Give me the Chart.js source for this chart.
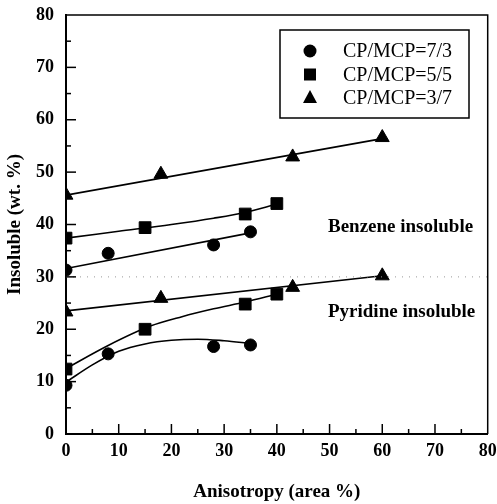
<!DOCTYPE html>
<html>
<head>
<meta charset="utf-8">
<script src="https://cdn.jsdelivr.net/npm/chart.js@4.4.1/dist/chart.umd.min.js"></script>
<style>
  html, body { margin: 0; padding: 0; background: #fff; }
  #wrap { width: 497px; height: 504px; }
</style>
</head>
<body>
<div id="wrap"><canvas id="chart"></canvas></div>
<script>
// axis ticks
const xTickValues = [0, 10, 20, 30, 40, 50, 60, 70, 80];
const yTickValues = [0, 10, 20, 30, 40, 50, 60, 70, 80];

// measured points (anisotropy %, insoluble wt.%)
const anis73 = [0, 8, 28, 35];
const benz73 = [31.3, 34.5, 36.1, 38.6];
const pyr73 = [9.3, 15.3, 16.7, 17.0];

const anis55 = [0, 15, 34, 40];
const benz55 = [37.4, 39.4, 42.0, 44.0];
const pyr55 = [12.4, 20.0, 24.8, 26.7];

const anis37 = [0, 18, 43, 60];
const benz37 = [45.6, 49.6, 52.9, 56.6];
const pyr37 = [23.3, 25.9, 28.0, 30.2];

// fitted curves
const fitBenz73X = [0, 35];
const fitBenz73Y = [31.6, 38.4];
const fitBenz55X = [0, 10, 20, 28, 34, 40];
const fitBenz55Y = [37.4, 38.7, 40.0, 41.2, 42.3, 43.9];
const fitBenz37X = [0, 60];
const fitBenz37Y = [45.6, 56.4];

const fitPyr73X = [0, 5, 10, 15, 20, 25, 30, 35];
const fitPyr73Y = [9.9, 13.2, 15.8, 17.2, 17.9, 18.1, 17.8, 17.3];
const fitPyr55X = [0, 8, 16, 22, 28, 34, 40];
const fitPyr55Y = [12.5, 16.9, 20.6, 22.4, 23.9, 25.2, 26.7];
const fitPyr37X = [0, 60];
const fitPyr37Y = [23.5, 30.2];

// dotted reference line
const refLineX = [0, 80];
const refLineY = [30, 30];

const legendLabels = ['CP/MCP=7/3', 'CP/MCP=5/5', 'CP/MCP=3/7'];
const legendStyles = ['circle', 'rect', 'triangle'];

const serif = '"Liberation Serif", "Times New Roman", serif';

function pts(xs, ys) {
    return xs.map((x, i) => ({ x: x, y: ys[i] }));
}

function fitLine(xs, ys) {
    return {
        data: pts(xs, ys),
        showLine: true,
        borderColor: '#000',
        borderWidth: 1.6,
        pointRadius: 0,
        cubicInterpolationMode: 'monotone',
        fill: false
    };
}

function markers(xs, ys, style, radius) {
    return {
        data: pts(xs, ys),
        showLine: false,
        pointStyle: style,
        pointRadius: radius,
        pointBackgroundColor: '#000',
        pointBorderColor: '#000',
        pointBorderWidth: 1
    };
}

function drawMarker(ctx, style, x, y) {
    ctx.beginPath();
    if (style === 'circle') {
        ctx.arc(x, y, 6.5, 0, Math.PI * 2);
    } else if (style === 'rect') {
        ctx.rect(x - 6, y - 6, 12, 12);
    } else {
        ctx.moveTo(x, y - 8);
        ctx.lineTo(x + 7, y + 5);
        ctx.lineTo(x - 7, y + 5);
        ctx.closePath();
    }
    ctx.fill();
}

// inward ticks, frame, legend box and text labels
const decorations = {
    id: 'decorations',
    afterDraw(chart) {
        const ctx = chart.ctx;
        const xs = chart.scales.x;
        const ys = chart.scales.y;
        const a = chart.chartArea;
        ctx.save();
        ctx.strokeStyle = '#000';
        ctx.fillStyle = '#000';

        // frame top & right
        ctx.lineWidth = 1.5;
        ctx.beginPath();
        ctx.moveTo(a.left, a.top);
        ctx.lineTo(a.right, a.top);
        ctx.lineTo(a.right, a.bottom);
        ctx.stroke();

        // inward ticks
        ctx.lineWidth = 1.5;
        for (let v = 5; v < 80; v += 5) {
            const len = v % 10 === 0 ? 10 : 5;
            const px = xs.getPixelForValue(v);
            ctx.beginPath();
            ctx.moveTo(px, a.bottom);
            ctx.lineTo(px, a.bottom - len);
            ctx.stroke();
            const py = ys.getPixelForValue(v);
            ctx.beginPath();
            ctx.moveTo(a.left, py);
            ctx.lineTo(a.left + len, py);
            ctx.stroke();
        }

        // legend
        const lx = a.left + 214, ly = a.top + 15;
        ctx.lineWidth = 1.5;
        ctx.strokeRect(lx, ly, 189, 88);
        ctx.font = '20px ' + serif;
        ctx.textBaseline = 'middle';
        ctx.textAlign = 'left';
        legendLabels.forEach((t, i) => {
            const cy = ly + 21 + i * 23.5;
            drawMarker(ctx, legendStyles[i], lx + 30, cy);
            ctx.fillText(t, lx + 63, cy + 1);
        });

        // region labels
        ctx.font = 'bold 19px ' + serif;
        ctx.fillText('Benzene insoluble', xs.getPixelForValue(49.7), ys.getPixelForValue(39.5));
        ctx.fillText('Pyridine insoluble', xs.getPixelForValue(49.7), ys.getPixelForValue(23.3));
        ctx.restore();
    }
};

const ctx1 = document.getElementById('chart').getContext('2d');

const chart = new Chart(ctx1, {
    type: 'scatter',
    data: {
        datasets: [
            {
                data: pts(refLineX, refLineY),
                showLine: true,
                borderColor: '#999',
                borderWidth: 1,
                borderDash: [1, 6],
                pointRadius: 0
            },
            fitLine(fitBenz73X, fitBenz73Y),
            fitLine(fitBenz55X, fitBenz55Y),
            fitLine(fitBenz37X, fitBenz37Y),
            fitLine(fitPyr73X, fitPyr73Y),
            fitLine(fitPyr55X, fitPyr55Y),
            fitLine(fitPyr37X, fitPyr37Y),
            markers(anis73, benz73, 'circle', 6),
            markers(anis73, pyr73, 'circle', 6),
            markers(anis55, benz55, 'rect', 8.3),
            markers(anis55, pyr55, 'rect', 8.3),
            markers(anis37, benz37, 'triangle', 8),
            markers(anis37, pyr37, 'triangle', 8)
        ]
    },
    options: {
        responsive: true,
        maintainAspectRatio: false,
        animation: false,
        events: [],
        layout: {
            padding: { top: 15, right: 9, left: 0, bottom: 0 }
        },
        scales: {
            x: {
                type: 'linear',
                min: 0,
                max: 80,
                afterBuildTicks: s => { s.ticks = xTickValues.map(v => ({ value: v })); },
                afterFit: s => { s.height = 70; s.paddingLeft = 0; s.paddingRight = 0; },
                grid: { display: false, drawTicks: false },
                border: { display: true, color: '#000', width: 2 },
                ticks: {
                    color: '#000',
                    padding: 7,
                    maxRotation: 0,
                    font: { family: serif, size: 18, weight: 'bold' }
                },
                title: {
                    display: true,
                    text: 'Anisotropy (area %)',
                    color: '#000',
                    padding: { top: 0, bottom: 1 },
                    font: { family: serif, size: 19, weight: 'bold' }
                }
            },
            y: {
                type: 'linear',
                min: 0,
                max: 80,
                afterBuildTicks: s => { s.ticks = yTickValues.map(v => ({ value: v })); },
                afterFit: s => { s.width = 66; s.paddingTop = 0; s.paddingBottom = 0; },
                grid: { display: false, drawTicks: false },
                border: { display: true, color: '#000', width: 2 },
                ticks: {
                    color: '#000',
                    padding: 12,
                    font: { family: serif, size: 18, weight: 'bold' }
                },
                title: {
                    display: true,
                    text: 'Insoluble (wt. %)',
                    color: '#000',
                    padding: { top: 4, bottom: 0 },
                    font: { family: serif, size: 19, weight: 'bold' }
                }
            }
        },
        plugins: {
            legend: { display: false },
            tooltip: { enabled: false }
        }
    },
    plugins: [decorations]
});
</script>
</body>
</html>
